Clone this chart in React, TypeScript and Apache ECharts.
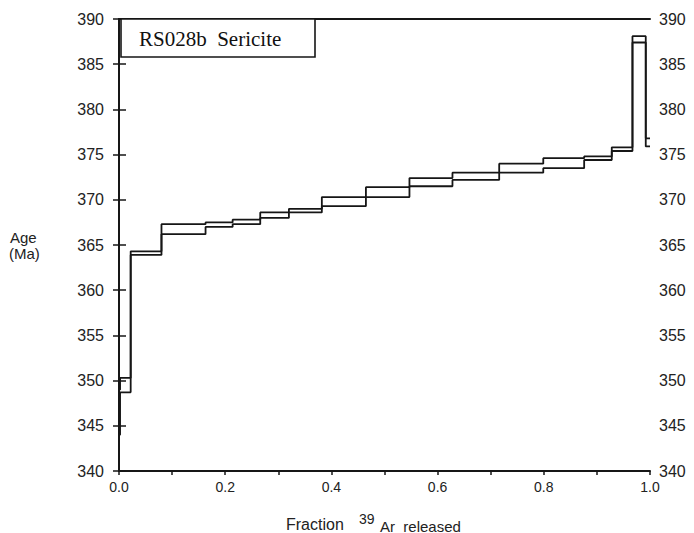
import React, { useEffect, useRef } from 'react';
import * as echarts from 'echarts';

// Step boundaries (fraction of 39Ar released)
const stepEdges = [0, 0.002, 0.022, 0.080, 0.163, 0.214, 0.266, 0.320, 0.382, 0.465, 0.547, 0.628, 0.716, 0.799, 0.876, 0.928, 0.967, 0.992, 1.0];
// Upper and lower (±error) ages for each step, Ma
const upperAges = [349.0, 350.3, 364.3, 367.3, 367.5, 367.8, 368.6, 369.0, 370.3, 371.4, 372.4, 373.0, 374.0, 374.6, 374.8, 375.8, 388.1, 376.8];
const lowerAges = [344.0, 348.7, 363.9, 366.2, 367.0, 367.3, 368.0, 368.6, 369.3, 370.3, 371.5, 372.2, 373.0, 373.5, 374.4, 375.4, 387.4, 375.9];

const yMin = 340;
const yMax = 390;
const yStep = 5;
const xMin = 0;
const xMax = 1;
const xStep = 0.1;

const sampleTitle = 'RS028b  Sericite';

function stepPoints(ages: number[]) {
  const pts: number[][] = [];
  ages.forEach((a, i) => {
    pts.push([stepEdges[i], a]);
    pts.push([stepEdges[i + 1], a]);
  });
  return pts;
}

const INK = '#161616';
const SANS = '"Liberation Sans", Arial, Helvetica, sans-serif';

export default function App() {
  const ref = useRef<HTMLDivElement>(null);
  useEffect(() => {
    if (!ref.current) return;
    const chart = echarts.init(ref.current, null, { renderer: 'svg' });
    const yAxisBase = {
      type: 'value',
      min: yMin,
      max: yMax,
      interval: yStep,
      splitLine: { show: false },
      axisLine: { show: true, lineStyle: { color: INK, width: 2 } },
    };
    chart.setOption({
      animation: false,
      backgroundColor: '#ffffff',
      grid: { left: 119, right: 44, top: 19, bottom: 62, containLabel: false },
      xAxis: [
        {
          type: 'value',
          min: xMin,
          max: xMax,
          interval: xStep,
          position: 'bottom',
          splitLine: { show: false },
          axisLine: { show: true, onZero: false, lineStyle: { color: INK, width: 2 } },
          axisTick: { show: true, length: 4, inside: false, lineStyle: { color: INK, width: 1.5 } },
          axisLabel: {
            show: true,
            margin: 9,
            fontSize: 14,
            fontFamily: SANS,
            color: '#222',
            formatter: (v: number) => (Math.round(v * 10) % 2 === 0 ? v.toFixed(1) : ''),
          },
        },
        {
          type: 'value',
          min: xMin,
          max: xMax,
          position: 'top',
          splitLine: { show: false },
          axisLine: { show: true, onZero: false, lineStyle: { color: INK, width: 2 } },
          axisTick: { show: false },
          axisLabel: { show: false },
        },
      ],
      yAxis: [
        {
          ...yAxisBase,
          position: 'left',
          axisTick: { show: true, length: 6, inside: false, lineStyle: { color: INK, width: 1.5 } },
          axisLabel: { margin: 15, fontSize: 16, fontFamily: SANS, color: '#222' },
        },
        {
          ...yAxisBase,
          position: 'right',
          axisTick: { show: true, length: 7, inside: false, lineStyle: { color: INK, width: 1.5 } },
          axisLabel: { margin: 9, fontSize: 16, fontFamily: SANS, color: '#222' },
        },
      ],
      series: [
        {
          name: 'upper',
          type: 'line',
          xAxisIndex: 0,
          yAxisIndex: 0,
          data: stepPoints(upperAges),
          showSymbol: false,
          symbol: 'none',
          lineStyle: { color: INK, width: 1.8 },
          silent: true,
        },
        {
          name: 'lower',
          type: 'line',
          xAxisIndex: 0,
          yAxisIndex: 0,
          data: stepPoints(lowerAges),
          showSymbol: false,
          symbol: 'none',
          lineStyle: { color: INK, width: 1.8 },
          silent: true,
        },
      ],
      graphic: [
        {
          type: 'rect',
          shape: { x: 121, y: 19, width: 194, height: 38 },
          style: { fill: '#fff', stroke: INK, lineWidth: 1.6 },
          z: 10,
        },
        {
          type: 'text',
          x: 139,
          y: 39,
          style: {
            text: sampleTitle,
            font: '21px "Liberation Serif", "Times New Roman", serif',
            fill: '#111',
            textVerticalAlign: 'middle',
            verticalAlign: 'middle',
          },
          z: 11,
        },
        {
          type: 'text',
          x: 10,
          y: 237,
          style: { text: 'Age', font: '15px ' + SANS, fill: '#222', verticalAlign: 'middle' },
        },
        {
          type: 'text',
          x: 9,
          y: 253,
          style: { text: '(Ma)', font: '15px ' + SANS, fill: '#222', verticalAlign: 'middle' },
        },
        {
          type: 'text',
          x: 286,
          y: 524,
          style: { text: 'Fraction', font: '16px ' + SANS, fill: '#222', verticalAlign: 'middle' },
        },
        {
          type: 'text',
          x: 359,
          y: 519,
          style: { text: '39', font: '14px ' + SANS, fill: '#222', verticalAlign: 'middle' },
        },
        {
          type: 'text',
          x: 380,
          y: 526,
          style: { text: 'Ar  released', font: '15px ' + SANS, fill: '#222', verticalAlign: 'middle' },
        },
      ],
    });
    return () => chart.dispose();
  }, []);
  return <div ref={ref} style={{ width: 694, height: 533, position: 'absolute', left: 0, top: 0 }} />;
}
